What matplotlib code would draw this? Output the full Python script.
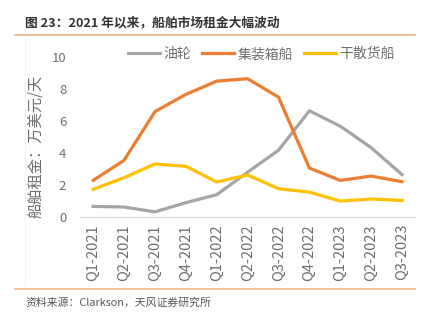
import matplotlib
matplotlib.use("Agg")
import matplotlib.pyplot as plt
from matplotlib.lines import Line2D

plt.rcParams['font.family'] = ['Noto Sans CJK SC', 'DejaVu Sans']

quarters = ["Q1-2021", "Q2-2021", "Q3-2021", "Q4-2021", "Q1-2022", "Q2-2022",
            "Q3-2022", "Q4-2022", "Q1-2023", "Q2-2023", "Q3-2023"]
tanker = [0.67, 0.63, 0.33, 0.90, 1.40, 2.80, 4.17, 6.63, 5.67, 4.33, 2.65]
container = [2.29, 3.54, 6.58, 7.65, 8.48, 8.63, 7.48, 3.06, 2.29, 2.56, 2.21]
drybulk = [1.73, 2.46, 3.31, 3.17, 2.19, 2.63, 1.77, 1.56, 1.00, 1.13, 1.04]
series_names = ["油轮", "集装箱船", "干散货船"]
colors = ["#A5A5A5", "#ED7D31", "#FFC000"]
yticks = [0, 2, 4, 6, 8, 10]

fig = plt.figure(figsize=(4.31, 3.28), dpi=100)
ax = fig.add_axes([0.186, 0.338, 0.777, 0.489])

x = list(range(len(quarters)))
for vals, c in zip([tanker, container, drybulk], colors):
    ax.plot(x, vals, color=c, lw=2.3, solid_joinstyle='round')

ax.set_xlim(-0.42, len(quarters) - 1 + 0.42)
ax.set_ylim(0, 10)
ax.set_yticks(yticks)
ax.set_xticks(x)
ax.set_xticklabels(quarters, rotation=90, fontsize=10.5, color="#6E6E6E",
                   fontweight='light')
ax.tick_params(axis='y', labelsize=9.5, colors="#6E6E6E", length=0, pad=10)
ax.tick_params(axis='x', length=0, pad=5)
for s in ['top', 'right', 'left']:
    ax.spines[s].set_visible(False)
ax.spines['bottom'].set_color("#D9D9D9")
ax.spines['bottom'].set_linewidth(0.8)
ax.set_ylabel("船舶租金：万美元/天", fontsize=11, color="#6E6E6E",
              fontweight='light')
ax.yaxis.set_label_coords(-0.107, 0.44)

handles = [Line2D([0], [0], color=c, lw=2.3) for c in colors]
fig.legend(handles, series_names, loc='center', bbox_to_anchor=(0.606, 0.835),
           ncol=3, frameon=False, fontsize=10, handlelength=2.3, handletextpad=0.25,
           columnspacing=0.8, labelcolor="#6E6E6E")

# faint chart frame
fig.add_artist(Line2D([0.058, 0.058], [0.13, 0.885], color="#F2F2F2", lw=0.8,
                      transform=fig.transFigure))

fig.text(0.058, 0.932, "图 23：2021 年以来，船舶市场租金大幅波动", fontsize=9.2,
         fontweight='bold', color="#333333", va='center')
fig.add_artist(Line2D([0.035, 0.963], [0.892, 0.892], color="#F4B183", lw=1.2,
                      transform=fig.transFigure))
fig.add_artist(Line2D([0.035, 0.963], [0.12, 0.12], color="#F4B183", lw=1.2,
                      transform=fig.transFigure))
fig.text(0.058, 0.078, "资料来源：Clarkson，天风证券研究所", fontsize=7.8,
         color="#555555", va='center')

fig.savefig("out.png", dpi=100)
